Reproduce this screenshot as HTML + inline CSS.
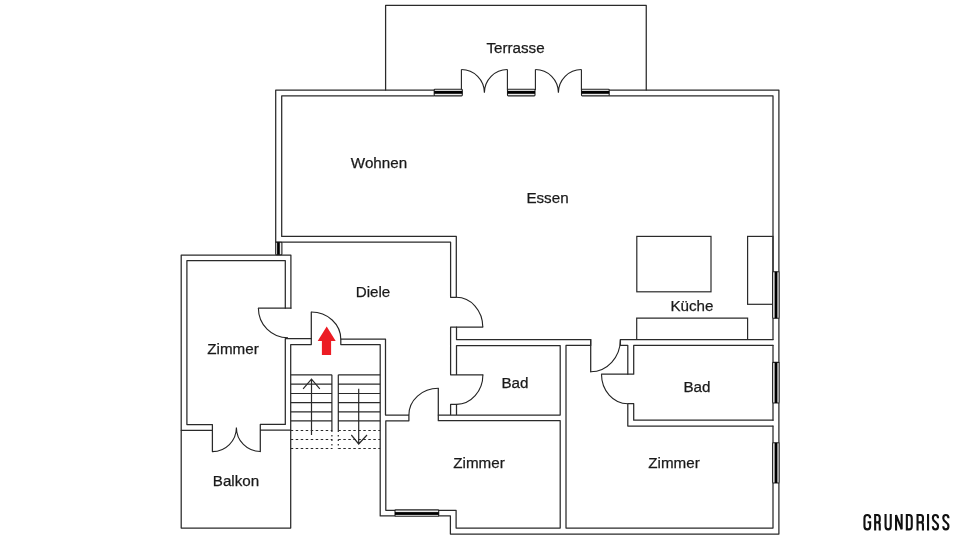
<!DOCTYPE html>
<html><head><meta charset="utf-8">
<style>
html,body{margin:0;padding:0;background:#fff;width:960px;height:540px;overflow:hidden}
svg{display:block;will-change:transform}
.w{fill:none;stroke:#2a2a2a;stroke-width:1.25;stroke-linejoin:round;stroke-linecap:round}
.d{fill:none;stroke:#222;stroke-width:1.1}
.f{fill:none;stroke:#2a2a2a;stroke-width:1.2}
.st{fill:none;stroke:#2a2a2a;stroke-width:1.2}
.ds{fill:none;stroke:#2a2a2a;stroke-width:1.2;stroke-dasharray:2.5 2.5}
.dv{fill:none;stroke:#2a2a2a;stroke-width:1.2;stroke-dasharray:1.6 2.9}
.win{fill:#ededed;stroke:#222;stroke-width:1.1}
.wb{fill:#000}
text{font-family:"Liberation Sans",sans-serif;font-size:15.2px;fill:#1a1a1a;stroke:#1a1a1a;stroke-width:0.25}
</style></head>
<body>
<svg width="960" height="540" viewBox="0 0 960 540">
<!-- Terrace -->
<path class="w" d="M385.6,90 V5.4 H646.25 V90"/>

<!-- Main outer wall (top-left-right) -->
<path class="w" d="M434,90 H275.7 V242.2"/>
<path class="w" d="M609.2,90 H778.9 V271.7 M778.9,318.3 V362.6 M778.9,403 V442.8 M778.9,483 V534 H450.4 V515.9 H438.7 M395.1,515.9 H380.2 V344.5 H340.8 V339 H385.5 V415 H408.9 V420.8 H385.8 V510.3 H395.1 M438.7,510.3 H456.1 V528.1 H560.2 V420.7 H438.3 V388.3"/>
<!-- top inner -->
<path class="w" d="M434,95.8 H281.7 V236.4 H456.3 V297.3 H450.6 V242.2 H275.7"/>
<path class="w" d="M609.2,95.8 H773 V271.7 M773,318.3 V339.6 M773,345.4 V362.6 M773,403 V420.2 M773,426 V442.8 M773,483 V528.1 H566 V345.4 H590.7 V339.6 H456.5 V327.1 H482.8"/>
<!-- top wall pieces between windows/doors (outer line) -->
<path class="d" d="M461.4,90 V69.5 M507.4,90 V69.5 M535.4,90 V69.5 M581.4,90 V69.5"/>
<!-- Terrace doors -->
<path class="d" d="M461.4,69.5 A23,23.3 0 0 1 484.4,92.8 M507.4,69.5 A23,23.3 0 0 0 484.4,92.8 M535.4,69.5 A23,23.3 0 0 1 558.4,92.8 M581.4,69.5 A23,23.3 0 0 0 558.4,92.8"/>

<!-- Diele right wall / door -->
<path class="d" d="M456.3,297.3 A26.5,29.8 0 0 1 482.8,327.1"/>
<path class="w" d="M450.6,327.1 H456.5 M450.6,327.1 V374.8 H482.9 M456.5,345.6 V374.8 M456.5,345.6 H560.2 V415 H438.3 M450.6,415 V404.4 H456.5 V415"/>
<path class="d" d="M482.9,374.8 A26.4,29.6 0 0 1 456.5,404.4"/>
<path class="d" d="M438.3,388.3 A29.4,26.7 0 0 0 408.9,415"/>

<!-- Küche door -->
<path class="w" d="M590.7,339.6 V371.8"/>
<path class="d" d="M590.7,371.8 A29.7,32.2 0 0 0 620.4,339.6"/>
<path class="w" d="M620.4,339.6 H773 M620.4,339.6 V345.4 H627.8 V374.2 H633.7 V345.4 H773"/>
<path class="w" d="M601.5,374.2 H627.8"/>
<path class="d" d="M601.5,374.2 A26.3,29.5 0 0 0 627.8,403.7"/>
<path class="w" d="M627.8,403.7 H633.7 V420.2 H773 M627.8,403.7 V426 H773"/>

<!-- Left Zimmer / Balkon -->
<path class="w" d="M290.9,308.2 V255 H181.2 V528.1 H290.7 V344.5 H311.3 V312"/>
<path class="w" d="M285.3,308.2 V260.6 H186.9 V424.6 H212.4 V451.6 M181.2,430.3 H212.4 V424.6"/>
<path class="w" d="M258.4,308.2 H290.9"/>
<path class="d" d="M258.4,308.2 A29.6,29.6 0 0 0 288,337.8"/>
<path class="w" d="M285.3,338.6 H311.3 M285.3,338.6 V424.4 H260.3 V451.5 M260.3,430.2 H290.7"/>
<path class="d" d="M212.4,451.6 A24,24.1 0 0 0 236.4,427.5 M260.3,451.5 A23.9,24 0 0 1 236.4,427.5"/>
<!-- entry door -->
<path class="d" d="M311.3,312 A29.5,27.3 0 0 1 340.8,339.3"/>

<!-- Stairs -->
<path class="st" d="M290.7,374.8 H331.9 M290.7,384.1 H331.9 M290.7,393.5 H331.9 M290.7,402.7 H331.9 M290.7,411.9 H331.9 M290.7,420.9 H331.9 M331.9,374.8 V430.5 M338.3,374.8 H380.2 M338.3,384.1 H380.2 M338.3,393.5 H380.2 M338.3,402.7 H380.2 M338.3,411.9 H380.2 M338.3,420.9 H380.2 M338.3,374.8 V430.5"/>
<path class="ds" d="M290.7,430.5 H332.4 M290.7,439.5 H332.4 M290.7,448.5 H332.4 M338.3,430.5 H380.2 M338.3,439.5 H380.2 M338.3,448.5 H380.2"/>
<path class="dv" d="M331.9,430.5 V449 M338.3,430.5 V449"/>
<path class="st" d="M311.5,435 V379.2 M303.1,388.9 L311.5,379.2 L319.8,388.9 M358.7,388.7 V444 M351.3,435 L358.7,444 L367,435"/>

<!-- Kitchen furniture -->
<rect class="f" x="636.8" y="236.4" width="74.2" height="55.4"/>
<rect class="f" x="747.6" y="236.4" width="25.4" height="67.9"/>
<path class="f" d="M636.7,339.6 V318.2 H747.6 V339.6"/>

<!-- Windows -->
<g>
<rect class="win" rx="0.8" x="434.2" y="89.3" width="28.1" height="6.6"/>
<rect class="wb" x="434.2" y="90.9" width="28.1" height="2.9"/>
<rect class="win" rx="0.8" x="507.5" y="89.3" width="27.5" height="6.6"/>
<rect class="wb" x="507.5" y="90.9" width="27.5" height="2.9"/>
<rect class="win" rx="0.8" x="581.5" y="89.3" width="27.7" height="6.6"/>
<rect class="wb" x="581.5" y="90.9" width="27.7" height="2.9"/>
<rect class="win" rx="0.8" x="275.7" y="242.2" width="6.2" height="12.5"/>
<rect class="wb" x="277.1" y="242.2" width="2.7" height="12.5"/>
<rect class="win" rx="0.8" x="772.6" y="271.7" width="6.6" height="46.6"/>
<rect class="wb" x="774.6" y="271.7" width="2.8" height="46.6"/>
<rect class="win" rx="0.8" x="772.6" y="362.4" width="6.6" height="40.6"/>
<rect class="wb" x="774.6" y="362.4" width="2.8" height="40.6"/>
<rect class="win" rx="0.8" x="772.6" y="442.8" width="6.6" height="40.2"/>
<rect class="wb" x="774.6" y="442.8" width="2.8" height="40.2"/>
<rect class="win" rx="0.8" x="395" y="509.9" width="43.7" height="6.3"/>
<rect class="wb" x="395" y="512.1" width="43.7" height="2.8"/>
</g>

<!-- red arrow -->
<path fill="#ec1c24" d="M326.7,326.5 L335.7,340.9 H331.1 V354.9 H321.9 V340.9 H317.7 Z"/>

<!-- Labels -->
<text x="515.5" y="53.45" text-anchor="middle">Terrasse</text>
<text x="379" y="167.65" text-anchor="middle">Wohnen</text>
<text x="547.5" y="203.35" text-anchor="middle">Essen</text>
<text x="373" y="297.25" text-anchor="middle">Diele</text>
<text x="233" y="354.25" text-anchor="middle">Zimmer</text>
<text x="515" y="388.25" text-anchor="middle">Bad</text>
<text x="692" y="310.75" text-anchor="middle">Küche</text>
<text x="697" y="392.25" text-anchor="middle">Bad</text>
<text x="479" y="468.25" text-anchor="middle">Zimmer</text>
<text x="674" y="468.25" text-anchor="middle">Zimmer</text>
<text x="236" y="486.25" text-anchor="middle">Balkon</text>
<path fill="none" stroke="#111" stroke-width="2.1" stroke-linejoin="miter" d="
M870.15,518.2 Q870.15,515.05 867.3,515.05 Q864.45,515.05 864.45,518.2 V526.2 Q864.45,529.35 867.3,529.35 Q870.15,529.35 870.15,526.2 V522.3 H867.6
M875.15,530.4 V515.05 H877.4 Q879.75,515.05 879.75,517.6 V519.9 Q879.75,522.4 877.4,522.4 H875.15 M878,522.4 Q879.75,522.6 879.75,525 V530.4
M885.55,514 V526.2 Q885.55,529.35 888.15,529.35 Q890.75,529.35 890.75,526.2 V514
M896.05,530.4 V515.05 L901.65,529.35 V514
M906.85,515.05 H909 Q911.75,515.05 911.75,518 V526.4 Q911.75,529.35 909,529.35 H906.85 Z
M917.55,530.4 V515.05 H920.6 Q922.95,515.05 922.95,517.6 V519.9 Q922.95,522.4 920.6,522.4 H917.55 M921.2,522.4 Q922.95,522.6 922.95,525 V530.4
M928.05,514 V530.4
M938.05,518.2 Q938.05,515.05 935.45,515.05 Q932.85,515.05 932.85,518.2 Q932.85,520.3 935.45,522.2 Q938.05,524.1 938.05,526.2 Q938.05,529.35 935.45,529.35 Q932.85,529.35 932.85,526.2
M948.45,518.2 Q948.45,515.05 945.85,515.05 Q943.25,515.05 943.25,518.2 Q943.25,520.3 945.85,522.2 Q948.45,524.1 948.45,526.2 Q948.45,529.35 945.85,529.35 Q943.25,529.35 943.25,526.2"/>
</svg>
</body></html>
